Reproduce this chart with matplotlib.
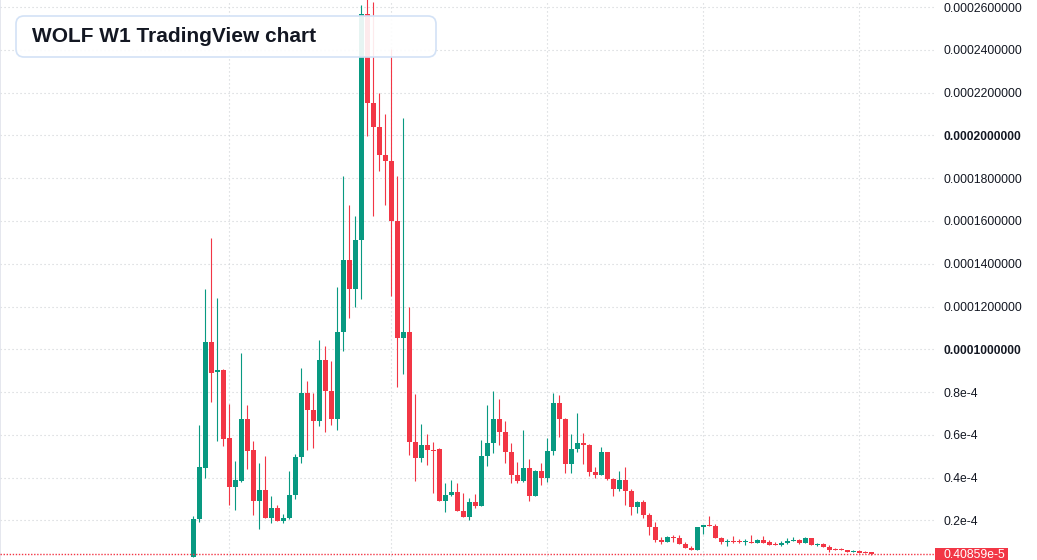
import matplotlib
matplotlib.use("Agg")
import matplotlib.pyplot as plt
import numpy as np
from matplotlib.patches import FancyBboxPatch, Rectangle
from matplotlib.transforms import blended_transform_factory

# weekly candles, prices in units of 1e-6
opens = [3.0, 20.4, 44.6, 103.4, 89.3, 90.3, 58.5, 35.7, 38.5, 67.4,
         52.9, 29.2, 34.2, 21.2, 25.8, 19.8, 21.1, 31.8, 49.5, 79.5,
         71.7, 66.6, 95.0, 80.6, 67.5, 108.1, 141.8, 128.3, 151.1, 256.8,
         215.3, 204.1, 191.0, 188.1, 160.1, 105.4, 108.1, 56.8, 49.3, 55.2,
         53.0, 53.3, 29.2, 31.8, 33.2, 24.5, 21.7, 28.6, 26.7, 50.1,
         56.1, 67.4, 61.4, 52.1, 41.3, 38.5, 44.4, 31.5, 43.1, 40.0,
         52.4, 74.9, 67.6, 46.5, 53.3, 56.2, 55.4, 42.7, 41.3, 51.9,
         39.5, 34.8, 38.9, 33.9, 26.4, 28.6, 22.6, 17.0, 10.9, 9.85,
         12.2, 11.9, 8.9, 7.2, 6.1, 16.9, 17.8, 17.3, 11.9, 9.85,
         10.3, 10.0, 9.8, 10.0, 9.5, 10.9, 9.8, 8.9, 8.6, 9.5,
         10.5, 10.9, 9.4, 11.7, 8.6, 8.9, 7.65, 6.6, 6.5, 6.1,
         5.2, 5.6, 5.2, 5.0]
highs = [22.2, 64.6, 128.2, 152.2, 124.1, 91.0, 74.4, 47.7, 98.3, 73.9,
         57.1, 46.8, 50.1, 31.4, 27.2, 22.9, 43.1, 50.9, 91.2, 85.2,
         79.5, 104.3, 101.4, 94.5, 129.1, 181.0, 167.5, 162.3, 261.0, 272.0,
         262.6, 219.7, 210.0, 240.3, 181.0, 208.2, 119.8, 79.1, 65.0, 60.4,
         56.6, 54.0, 37.4, 38.9, 37.4, 32.8, 30.4, 32.2, 57.6, 73.9,
         80.5, 76.7, 66.5, 56.2, 47.3, 62.3, 48.7, 43.3, 46.8, 58.5,
         79.5, 78.6, 68.0, 60.4, 70.2, 60.9, 55.6, 44.9, 54.3, 52.1,
         39.8, 43.1, 44.9, 34.8, 29.2, 29.5, 23.6, 19.2, 12.2, 12.8,
         13.1, 13.1, 9.85, 8.0, 16.9, 18.0, 22.0, 18.3, 12.2, 11.25,
         12.7, 11.2, 11.2, 13.1, 11.4, 12.6, 10.8, 10.0, 10.3, 11.9,
         12.3, 11.4, 12.2, 11.8, 9.4, 9.4, 8.45, 7.05, 7.05, 6.2,
         6.1, 6.2, 5.6, 5.1]
lows = [2.8, 19.4, 39.9, 75.5, 57.2, 54.9, 27.2, 25.0, 38.0, 44.2,
        22.6, 16.1, 21.0, 18.9, 19.6, 18.9, 20.8, 30.1, 47.0, 53.0,
        54.0, 64.3, 61.5, 64.7, 62.4, 99.3, 114.8, 119.9, 123.4, 199.8,
        162.3, 183.5, 167.6, 124.9, 82.5, 88.6, 50.5, 38.5, 47.4, 45.9,
        32.8, 29.0, 24.0, 31.5, 24.3, 21.5, 20.1, 25.9, 26.5, 45.6,
        51.6, 55.0, 47.0, 37.6, 37.6, 38.0, 29.2, 31.3, 36.7, 38.0,
        50.7, 59.1, 42.3, 42.3, 52.1, 46.5, 40.9, 40.0, 41.1, 39.0,
        31.5, 33.9, 27.3, 22.6, 23.5, 21.2, 13.1, 10.0, 8.9, 9.8,
        10.0, 8.8, 7.1, 6.0, 6.0, 13.7, 17.2, 11.6, 8.9, 8.0,
        9.2, 9.3, 8.45, 9.4, 9.3, 9.4, 8.5, 8.5, 8.1, 9.1,
        10.4, 9.1, 9.3, 8.5, 8.1, 7.5, 5.3, 6.0, 6.0, 5.1,
        5.1, 4.6, 4.5, 3.9]
closes = [20.6, 44.9, 103.4, 89.1, 90.3, 58.0, 35.7, 38.9, 67.4, 52.6,
          29.2, 34.2, 21.2, 25.8, 19.8, 21.1, 31.8, 49.5, 79.5, 71.7,
          66.6, 95.0, 80.6, 67.5, 108.1, 141.8, 128.3, 151.1, 256.8, 215.3,
          204.1, 191.0, 188.1, 160.1, 105.4, 108.1, 56.8, 49.3, 55.2, 53.0,
          52.6, 29.2, 31.8, 33.2, 24.5, 21.7, 28.6, 26.7, 50.1, 56.1,
          67.4, 61.4, 52.1, 41.3, 38.5, 44.4, 31.5, 43.1, 40.0, 52.4,
          74.9, 67.6, 46.5, 53.3, 56.2, 55.4, 42.7, 41.3, 51.9, 39.5,
          34.8, 38.9, 33.9, 26.4, 28.6, 22.6, 17.0, 10.9, 9.85, 12.2,
          11.9, 8.9, 7.2, 6.1, 16.9, 17.8, 17.3, 11.9, 9.85, 10.3,
          10.0, 9.8, 10.0, 9.5, 10.9, 9.5, 8.6, 8.6, 9.5, 10.5,
          10.9, 9.4, 11.7, 8.6, 8.9, 7.65, 6.3, 6.1, 6.1, 5.2,
          5.6, 4.9, 4.7, 4.0859]

tick_values = [20, 40, 60, 80, 100, 120, 140, 160, 180, 200, 220, 240, 260]
tick_labels = ["0.2e-4", "0.4e-4", "0.6e-4", "0.8e-4", "0.0001000000",
               "0.0001200000", "0.0001400000", "0.0001600000", "0.0001800000",
               "0.0002000000", "0.0002200000", "0.0002400000", "0.0002600000"]
bold_labels = ["0.0001000000", "0.0002000000"]
time_grid_idx = [6, 33, 59, 85, 111]
last_label = "0.40859e-5"
title = "WOLF W1 TradingView chart"

UP = "#089981"
DOWN = "#f23645"
TEXT = "#131722"
GRID = "#cfd2d6"

plt.rcParams["font.family"] = ["Liberation Sans", "DejaVu Sans"]

o = np.array(opens)
h = np.array(highs)
l = np.array(lows)
c = np.array(closes)
x = np.arange(len(o))
colors = np.where(c >= o, UP, DOWN)

fig = plt.figure(figsize=(10.37, 5.6), dpi=100)
ax = fig.add_axes([0.0, 0.0, 935 / 1037, 1.0])

ax.vlines(x, l, h, colors=colors, linewidth=0.8, zorder=2)
body = np.maximum(np.abs(c - o), 0.5)
ax.bar(x, body, bottom=np.minimum(o, c), width=0.8, color=colors,
       linewidth=0, zorder=3)

ax.set_xlim(-32.2, 123.6)
ax.set_ylim(1.43, 263.37)

ax.set_xticks(time_grid_idx)
ax.set_xticklabels([])
ax.set_yticks(tick_values)
ax.set_yticklabels(tick_labels)
ax.yaxis.tick_right()
ax.tick_params(axis="both", length=0)
ax.tick_params(axis="y", pad=6, labelsize=8.7, labelcolor=TEXT)
for lab in ax.get_yticklabels():
    if lab.get_text() in bold_labels:
        lab.set_fontweight("bold")

ax.grid(True, color=GRID, linewidth=0.8, linestyle=(0, (1, 2.6)), zorder=0)
for side in ["top", "right", "bottom"]:
    ax.spines[side].set_visible(False)
ax.spines["left"].set_color("#e0e3eb")
ax.spines["left"].set_linewidth(1.2)

# last price line + label
ax.axhline(c[-1], color=DOWN, linewidth=1.0, linestyle=(0, (1, 1.2)), zorder=4)
trans = blended_transform_factory(ax.transAxes, ax.transData)
ax.add_patch(Rectangle((1.0, c[-1] - 3.9), 73 / 935, 7.0, transform=trans,
                       facecolor=DOWN, edgecolor="none", clip_on=False, zorder=5))
ax.text(1.0 + 8 / 935, c[-1] - 0.35, last_label, transform=trans, color="white",
        fontsize=8.7, ha="left", va="center", clip_on=False, zorder=6)

# title box
box = FancyBboxPatch((0.16, 5.03), 4.2, 0.41,
                     boxstyle="round,pad=0,rounding_size=0.08",
                     transform=fig.dpi_scale_trans,
                     facecolor=(1, 1, 1, 0.9), edgecolor="#d3e2f6", linewidth=1.2)
fig.patches.append(box)
fig.text(32 / 1037, 1 - 37 / 560, title, fontsize=15, fontweight="bold",
         color=TEXT, ha="left", va="center")

fig.savefig("out.png", dpi=100, facecolor="white")
